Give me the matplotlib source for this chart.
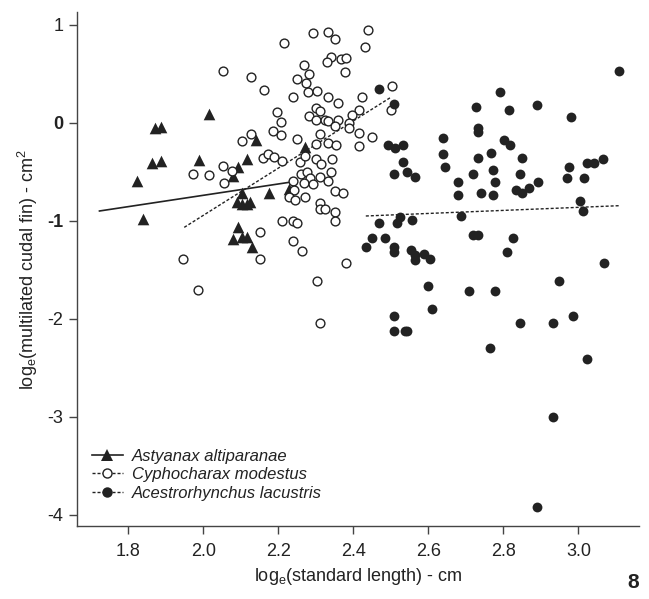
import matplotlib
matplotlib.use("Agg")
import matplotlib.pyplot as plt
from matplotlib.lines import Line2D

plt.rcParams["font.family"] = ["Liberation Sans", "DejaVu Sans"]
plt.rcParams["mathtext.fontset"] = "custom"
plt.rcParams["mathtext.rm"] = "Liberation Sans"
plt.rcParams["mathtext.it"] = "Liberation Sans:italic"

# Astyanax altiparanae (filled triangles)
ast_x = [1.824, 1.840, 1.862, 1.887, 1.871, 1.887, 1.988, 2.014, 2.141, 2.117,
         2.092, 2.080, 2.104, 2.175, 2.229, 2.090, 2.103, 2.115, 2.125, 2.091,
         2.078, 2.102, 2.117, 2.129, 2.271]
ast_y = [-0.592, -0.983, -0.408, -0.388, -0.057, -0.041, -0.381, 0.086, -0.177, -0.370,
         -0.449, -0.544, -0.714, -0.721, -0.680, -0.810, -0.830, -0.830, -0.810, -1.061,
         -1.190, -1.163, -1.163, -1.265, -0.250]

# Cyphocharax modestus (open circles)
cyp_x = [2.216, 2.053, 2.126, 2.162, 2.249, 2.240, 2.195, 2.207, 2.185, 2.207,
         2.126, 2.103, 2.249,
         2.440, 2.291, 2.331, 2.350, 2.431, 2.340, 2.329, 2.366, 2.381, 2.377,
         2.269, 2.281, 2.273, 2.280, 2.303, 2.332, 2.360, 2.424, 2.502, 2.500,
         2.415, 2.301, 2.311, 2.281, 2.301, 2.323, 2.332, 2.360, 2.351, 2.397,
         2.387, 2.387, 2.415, 2.450, 2.311, 2.301, 2.332, 2.353, 2.415,
         1.973, 2.014, 2.053, 2.076, 2.054, 2.160, 2.173, 2.187, 2.209, 2.257,
         2.240, 2.242, 2.229, 2.243, 2.210, 2.238, 2.249, 2.151, 2.240, 1.945,
         2.151, 1.987,
         2.271, 2.301, 2.313, 2.342, 2.341, 2.261, 2.276, 2.283, 2.269, 2.293,
         2.311, 2.333, 2.351, 2.372, 2.271, 2.311, 2.311, 2.325, 2.351, 2.351,
         2.262, 2.380, 2.302, 2.310]
cyp_y = [0.816, 0.531, 0.463, 0.331, 0.443, 0.259, 0.106, 0.004, -0.082, -0.129,
         -0.115, -0.190, -0.169,
         0.943, 0.915, 0.926, 0.857, 0.776, 0.673, 0.619, 0.650, 0.660, 0.520,
         0.592, 0.497, 0.405, 0.310, 0.323, 0.259, 0.204, 0.262, 0.378, 0.130,
         0.130, 0.153, 0.122, 0.068, 0.028, 0.028, 0.020, 0.028, -0.031, 0.075,
         -0.006, -0.057, -0.102, -0.149, -0.119, -0.217, -0.204, -0.224, -0.238,
         -0.527, -0.530, -0.442, -0.493, -0.619, -0.364, -0.323, -0.347, -0.388, -0.405,
         -0.595, -0.687, -0.762, -0.789, -1.000, -1.000, -1.027, -1.115, -1.207, -1.394,
         -1.391, -1.710,
         -0.337, -0.370, -0.421, -0.370, -0.500, -0.523, -0.506, -0.568, -0.619, -0.622,
         -0.551, -0.592, -0.697, -0.714, -0.761, -0.823, -0.881, -0.881, -0.915, -1.000,
         -1.309, -1.435, -1.615, -2.047]

# Acestrorhynchus lacustris (filled circles)
ace_x = [2.468, 2.509, 2.491, 2.511, 2.533, 2.532, 2.508, 2.542, 2.565, 2.467,
         2.523, 2.516, 2.557, 2.449, 2.485, 2.433, 2.509, 2.509, 2.554, 2.565,
         2.565, 2.589, 2.603, 2.598,
         3.108, 2.790, 2.726, 2.815, 2.889, 2.980, 2.733, 2.733, 2.802, 2.818,
         2.638, 2.638, 2.645, 2.680, 2.680, 2.733, 2.766, 2.772, 2.778, 2.720,
         2.741, 2.773, 2.849, 2.844, 2.833, 2.849, 2.869, 2.892, 2.974, 2.969,
         3.015, 3.022, 3.040, 3.064, 3.005, 3.011, 2.687, 2.720, 2.731, 2.826,
         2.810, 3.067, 2.609, 2.949, 2.708, 2.778, 2.985, 2.844, 2.933, 2.509,
         2.507, 2.538, 2.542, 2.765, 3.023, 2.933, 2.889]
ace_y = [0.344, 0.194, -0.224, -0.262, -0.224, -0.398, -0.523, -0.500, -0.551, -1.020,
         -0.965, -1.020, -0.993, -1.173, -1.173, -1.272, -1.272, -1.323, -1.299, -1.350,
         -1.401, -1.345, -1.394, -1.663,
         0.531, 0.316, 0.163, 0.126, 0.184, 0.055, -0.057, -0.092, -0.177, -0.228,
         -0.156, -0.319, -0.449, -0.605, -0.738, -0.357, -0.306, -0.483, -0.602, -0.527,
         -0.714, -0.738, -0.360, -0.523, -0.687, -0.721, -0.663, -0.608, -0.449, -0.568,
         -0.568, -0.415, -0.415, -0.374, -0.799, -0.898, -0.949, -1.146, -1.146, -1.173,
         -1.316, -1.429, -1.901, -1.612, -1.717, -1.717, -1.969, -2.047, -2.047, -1.969,
         -2.126, -2.126, -2.126, -2.296, -2.414, -3.000, -3.920]

# regression lines (end points)
ast_fit_x = [1.723, 2.240]
ast_fit_y = [-0.901, -0.602]
cyp_fit_x = [1.949, 2.498]
cyp_fit_y = [-1.068, 0.255]
ace_fit_x = [2.433, 3.108]
ace_fit_y = [-0.952, -0.847]

species = ["Astyanax altiparanae", "Cyphocharax modestus", "Acestrorhynchus lacustris"]

ink = "#222222"
dots = (0, (2.2, 1.4))

fig = plt.figure(figsize=(6.49, 5.99), dpi=100)
ax = fig.add_axes([0.118, 0.122, 0.867, 0.858])

ax.plot(ast_fit_x, ast_fit_y, color=ink, lw=1.2)
ax.plot(cyp_fit_x, cyp_fit_y, color=ink, lw=1.0, linestyle=dots)
ax.plot(ace_fit_x, ace_fit_y, color=ink, lw=1.0, linestyle=dots)

ax.scatter(ast_x, ast_y, marker="^", s=70, color=ink, linewidths=0, zorder=3)
ax.scatter(cyp_x, cyp_y, marker="o", s=40, facecolors="white", edgecolors=ink,
           linewidths=1.0, zorder=3)
ax.scatter(ace_x, ace_y, marker="o", s=50, color=ink, linewidths=0, zorder=3)

ax.set_xlim(1.662, 3.162)
ax.set_ylim(-4.115, 1.13)
ax.set_xticks([1.8, 2.0, 2.2, 2.4, 2.6, 2.8, 3.0])
ax.set_xticklabels(["1.8", "2.0", "2.2", "2.4", "2.6", "2.8", "3.0"])
ax.set_yticks([1, 0, -1, -2, -3, -4])
ax.set_yticklabels(["1", "0", "-1", "-2", "-3", "-4"])
for lab in ax.get_yticklabels():
    if lab.get_text() in ("0", "-1"):
        lab.set_fontweight("bold")

for side in ("top", "right"):
    ax.spines[side].set_visible(False)
for side in ("left", "bottom"):
    ax.spines[side].set_color("#444444")
    ax.spines[side].set_linewidth(1.0)
ax.tick_params(direction="out", length=5.5, width=1.0, color="#444444",
               labelsize=13, labelcolor=ink)
ax.tick_params(axis="x", pad=7)
ax.tick_params(axis="y", pad=4)

ax.set_xlabel(r"log$\mathregular{_e}$(standard length) - cm", fontsize=13, color=ink, labelpad=4)
ax.set_ylabel(r"log$\mathregular{_e}$(multilated cudal fin) - cm$\mathregular{^2}$",
              fontsize=13, color=ink, labelpad=5)

handles = [
    Line2D([], [], color=ink, lw=1.2, marker="^", markersize=8.5, markeredgewidth=0),
    Line2D([], [], color=ink, lw=1.0, linestyle=dots, marker="o", markersize=6.5,
           markerfacecolor="white", markeredgecolor=ink, markeredgewidth=1.0),
    Line2D([], [], color=ink, lw=1.0, linestyle=dots, marker="o", markersize=7.5,
           markeredgewidth=0),
]
leg = ax.legend(handles, species, loc="lower left", bbox_to_anchor=(0.0, 0.02),
                frameon=False, handlelength=1.9, handletextpad=0.5, labelspacing=0.2,
                prop={"style": "italic", "size": 12})
for t in leg.get_texts():
    t.set_color(ink)

fig.text(0.985, 0.012, "8", fontsize=15, fontweight="bold", ha="right", va="bottom", color=ink)

fig.savefig("out.png", dpi=100)
